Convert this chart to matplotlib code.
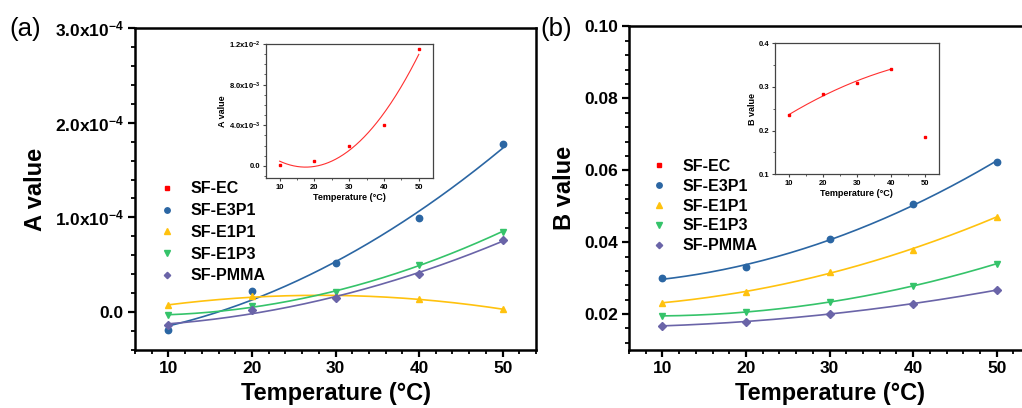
import math

import matplotlib
matplotlib.use("Agg")
import matplotlib.pyplot as plt
from matplotlib.ticker import FuncFormatter, MultipleLocator
import numpy as np

plt.rcParams["font.family"] = ["Liberation Sans", "DejaVu Sans"]
plt.rcParams["font.weight"] = "bold"
plt.rcParams["mathtext.fontset"] = "custom"
plt.rcParams["mathtext.rm"] = "Liberation Sans:bold"
plt.rcParams["mathtext.bf"] = "Liberation Sans:bold"
plt.rcParams["axes.unicode_minus"] = True

# ===== data =====
temps = [10, 20, 30, 40, 50]
series = ["SF-EC", "SF-E3P1", "SF-E1P1", "SF-E1P3", "SF-PMMA"]

# A value (main panel, SF-EC is in the inset)
a_ec = [0.0001, 0.0005, 0.0020, 0.0040, 0.0115]
a_e3p1 = [-1.9e-5, 2.2e-5, 5.2e-5, 9.9e-5, 1.77e-4]
a_e1p1 = [0.74e-5, 1.66e-5, 1.65e-5, 1.4e-5, 0.3e-5]
a_e1p3 = [-0.3e-5, 0.6e-5, 2.1e-5, 5.0e-5, 8.5e-5]
a_pmma = [-1.4e-5, 0.2e-5, 1.5e-5, 4.0e-5, 7.6e-5]

# B value
b_ec = [0.235, 0.283, 0.310, 0.342, 0.185]
b_e3p1 = [0.0300, 0.0330, 0.0409, 0.0506, 0.0624]
b_e1p1 = [0.0232, 0.0260, 0.0318, 0.0379, 0.0471]
b_e1p3 = [0.0195, 0.0205, 0.0234, 0.0278, 0.0340]
b_pmma = [0.0167, 0.0179, 0.0201, 0.0228, 0.0267]

colors = ["#FF0000", "#2B66A3", "#FFC20E", "#35C36A", "#6A64A8"]
markers = ["s", "o", "^", "v", "D"]


def sci_fmt(v, pos=None):
    if abs(v) < 1e-12:
        return "0.0"
    e = int(math.floor(math.log10(abs(v)) + 1e-9))
    m = v / 10 ** e
    return r"$\mathbf{%.1fx10^{%d}}$" % (m, e)


def fit_line(ax, x, y, color, lw=1.2, deg=2):
    c = np.polyfit(x, y, deg)
    xs = np.linspace(min(x), max(x), 200)
    ax.plot(xs, np.polyval(c, xs), color=color, lw=lw, zorder=2)


def style_main(ax):
    for s in ax.spines.values():
        s.set_linewidth(1.8)
    ax.tick_params(which="both", direction="out", top=False, right=False)
    ax.tick_params(which="major", length=5, width=1.6, labelsize=12.5, pad=3)
    ax.tick_params(which="minor", length=3, width=1.3)
    ax.set_xlim(6, 54)
    ax.xaxis.set_major_locator(MultipleLocator(10))
    ax.xaxis.set_minor_locator(MultipleLocator(2))
    ax.set_xlabel("Temperature (°C)", fontsize=17, fontweight="bold", labelpad=4)


def style_inset(ax):
    for s in ax.spines.values():
        s.set_linewidth(0.9)
        s.set_color("#444444")
    ax.tick_params(which="both", direction="out", top=False, right=False, color="#444444")
    ax.tick_params(which="major", length=2.5, width=0.8, labelsize=5.5, pad=1.5)
    ax.tick_params(which="minor", length=1.5, width=0.6)
    ax.set_xlim(6, 54)
    ax.xaxis.set_major_locator(MultipleLocator(10))
    ax.xaxis.set_minor_locator(MultipleLocator(5))
    ax.set_xlabel("Temperature (°C)", fontsize=6.5, fontweight="bold", labelpad=1.5)


def draw_main(ax, data):
    handles = []
    h, = ax.plot([], [], ls="none", marker=markers[0], color=colors[0], ms=3.5)
    handles.append(h)
    for vals, c, m in zip(data, colors[1:], markers[1:]):
        fit_line(ax, temps, vals, c)
        h, = ax.plot(temps, vals, ls="none", marker=m, color=c,
                     ms=4.6 if m != "D" else 3.8, zorder=3)
        handles.append(h)
    return handles


fig = plt.figure(figsize=(10.22, 4.08), dpi=100)

# ---------- (a) ----------
ax1 = fig.add_axes([0.1321, 0.1422, 0.3924, 0.7892])
style_main(ax1)
handles = draw_main(ax1, [a_e3p1, a_e1p1, a_e1p3, a_pmma])
ax1.set_ylim(-4e-5, 3e-4)
ax1.yaxis.set_major_locator(MultipleLocator(1e-4))
ax1.yaxis.set_minor_locator(MultipleLocator(2e-5))
ax1.yaxis.set_major_formatter(FuncFormatter(sci_fmt))
ax1.set_ylabel("A value", fontsize=17, fontweight="bold", labelpad=6)
ax1.legend(handles, series, loc="upper left", bbox_to_anchor=(0.02, 0.568),
           frameon=False, markerscale=0.85, handlelength=1.2,
           handletextpad=0.85, labelspacing=0.42, prop={"weight": "bold", "size": 11.5})
fig.text(0.009, 0.93, "(a)", fontsize=18.5, fontweight="normal", va="center")

ins1 = fig.add_axes([0.2600, 0.5637, 0.1634, 0.3284])
style_inset(ins1)
fit_line(ins1, temps, a_ec, "#FF3030", lw=0.8)
ins1.plot(temps, a_ec, ls="none", marker="s", color=colors[0], ms=2, zorder=3)
ins1.set_ylim(-1.2e-3, 1.2e-2)
ins1.yaxis.set_major_locator(MultipleLocator(4e-3))
ins1.yaxis.set_minor_locator(MultipleLocator(1e-3))
ins1.yaxis.set_major_formatter(FuncFormatter(sci_fmt))
ins1.set_ylabel("A value", fontsize=6.5, fontweight="bold", labelpad=1.5)

# ---------- (b) ----------
ax2 = fig.add_axes([0.6155, 0.1422, 0.3924, 0.7929])
style_main(ax2)
handles = draw_main(ax2, [b_e3p1, b_e1p1, b_e1p3, b_pmma])
ax2.set_ylim(0.01, 0.10)
ax2.yaxis.set_major_locator(MultipleLocator(0.02))
ax2.yaxis.set_minor_locator(MultipleLocator(0.004))
ax2.yaxis.set_major_formatter(FuncFormatter(lambda v, p: f"{v:.2f}"))
ax2.set_ylabel("B value", fontsize=17, fontweight="bold", labelpad=6)
ax2.legend(handles, series, loc="upper left", bbox_to_anchor=(0.015, 0.635),
           frameon=False, markerscale=0.85, handlelength=1.2,
           handletextpad=0.85, labelspacing=0.3, prop={"weight": "bold", "size": 11.5})
fig.text(0.529, 0.93, "(b)", fontsize=18.5, fontweight="normal", va="center")

ins2 = fig.add_axes([0.7583, 0.5728, 0.1602, 0.3211])
style_inset(ins2)
fit_line(ins2, temps[:4], b_ec[:4], "#FF3030", lw=0.8)
ins2.plot(temps, b_ec, ls="none", marker="s", color=colors[0], ms=2, zorder=3)
ins2.set_ylim(0.1, 0.4)
ins2.yaxis.set_major_locator(MultipleLocator(0.1))
ins2.yaxis.set_minor_locator(MultipleLocator(0.05))
ins2.yaxis.set_major_formatter(FuncFormatter(lambda v, p: f"{v:.1f}"))
ins2.set_ylabel("B value", fontsize=6.5, fontweight="bold", labelpad=1.5)

fig.savefig("out.png", dpi=100)
